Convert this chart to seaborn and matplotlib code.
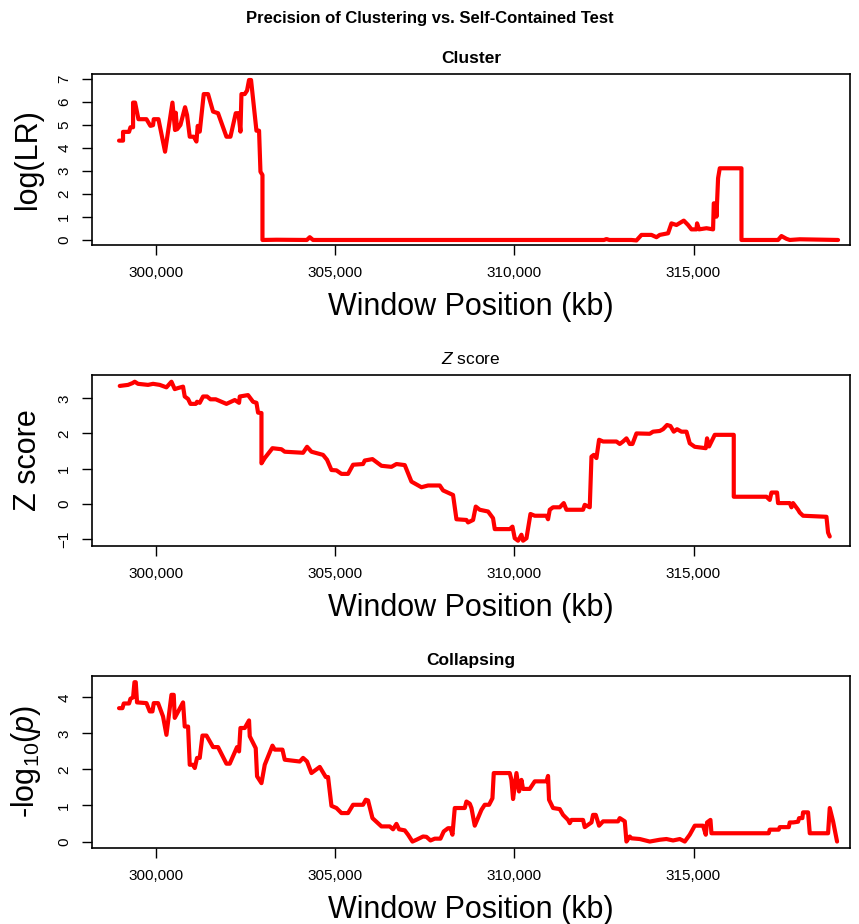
import matplotlib
matplotlib.use('Agg')
import matplotlib.pyplot as plt
import matplotlib.ticker as mticker
import seaborn as sns

# Window positions (kb) and scores
cluster_pos = [298955, 299067, 299067, 299235, 299274, 299347, 299347, 299403, 299497, 299721,
               299832, 299905, 299925, 300056, 300240, 300447, 300519, 300539, 300575, 300670,
               300799, 300855, 300930, 301042, 301117, 301153, 301209, 301321, 301441, 301581,
               301720, 301955, 302067, 302215, 302290, 302346, 302374, 302466, 302530, 302586,
               302642, 302793, 302866, 302905, 302961, 302961, 303352, 304200, 304282, 304374,
               312500, 312569, 312650, 313267, 313406, 313546, 313825, 313965, 314057, 314289,
               314384, 314524, 314728, 314848, 314943, 315082, 315099, 315155, 315362, 315546,
               315566, 315622, 315641, 315686, 315733, 316339, 316339, 317361, 317456, 317596,
               317688, 317967, 319037]
cluster_lr = [4.31, 4.31, 4.69, 4.69, 4.89, 4.89, 5.96, 5.96, 5.24, 5.24,
              4.95, 4.98, 5.24, 5.24, 3.83, 5.96, 4.77, 5.52, 4.80, 4.99,
              5.76, 5.42, 4.48, 4.48, 4.27, 4.95, 4.70, 6.33, 6.33, 5.57,
              5.50, 4.48, 4.48, 5.50, 5.50, 4.70, 6.33, 6.33, 6.48, 6.94,
              6.94, 4.74, 4.74, 2.96, 2.82, 0.00, 0.01, 0.00, 0.12, 0.00,
              0.00, 0.04, 0.00, 0.00, -0.02, 0.22, 0.22, 0.12, 0.22, 0.29,
              0.72, 0.65, 0.84, 0.65, 0.46, 0.46, 0.72, 0.46, 0.51, 0.46,
              1.59, 1.59, 1.01, 2.68, 3.11, 3.11, 0.00, 0.00, 0.17, 0.05,
              0.00, 0.03, 0.00]

z_pos = [298975, 299207, 299330, 299394, 299486, 299765, 299905, 300092, 300279, 300419,
         300511, 300603, 300743, 300790, 300883, 300950, 301098, 301134, 301209, 301302,
         301413, 301508, 301656, 301955, 302187, 302307, 302327, 302558, 302698, 302793,
         302838, 302933, 302933, 303025, 303240, 303491, 303583, 304095, 304206, 304329,
         304653, 304765, 304888, 305027, 305167, 305351, 305491, 305770, 305818, 306033,
         306284, 306564, 306703, 306935, 307122, 307401, 307586, 307913, 308005, 308284,
         308379, 308658, 308703, 308843, 308918, 309030, 309262, 309401, 309449, 309868,
         309943, 310007, 310099, 310194, 310239, 310334, 310446, 310566, 310893, 310937,
         310985, 311077, 311264, 311376, 311451, 311915, 311962, 312102, 312150, 312214,
         312289, 312362, 312474, 312848, 312940, 313032, 313127, 313219, 313295, 313406,
         313778, 313870, 314057, 314149, 314261, 314356, 314448, 314540, 314663, 314803,
         314895, 315035, 315342, 315378, 315434, 315501, 315593, 316124, 316124, 316571,
         317037, 317129, 317177, 317333, 317361, 317688, 317736, 317780, 317920, 317967,
         318060, 318713, 318758, 318805]
z_score = [3.35, 3.38, 3.43, 3.47, 3.41, 3.38, 3.41, 3.38, 3.31, 3.47,
           3.26, 3.29, 3.33, 3.05, 2.98, 2.84, 2.84, 2.90, 2.87, 3.05,
           3.05, 2.97, 2.97, 2.84, 2.95, 2.87, 3.05, 3.09, 2.90, 2.87,
           2.59, 2.58, 1.15, 1.30, 1.58, 1.55, 1.48, 1.45, 1.62, 1.48,
           1.39, 1.25, 0.96, 0.95, 0.85, 0.85, 1.11, 1.13, 1.23, 1.27,
           1.08, 1.05, 1.13, 1.10, 0.63, 0.47, 0.52, 0.52, 0.38, 0.25,
           -0.44, -0.46, -0.53, -0.46, -0.08, -0.17, -0.22, -0.41, -0.72, -0.72,
           -0.65, -0.98, -1.05, -0.88, -1.05, -0.98, -0.29, -0.34, -0.34, -0.44,
           -0.17, -0.10, -0.10, 0.02, -0.17, -0.17, -0.03, -0.10, 1.34, 1.39,
           1.30, 1.82, 1.77, 1.77, 1.70, 1.77, 1.86, 1.70, 1.70, 2.00,
           1.99, 2.05, 2.07, 2.12, 2.24, 2.21, 2.05, 2.12, 2.05, 2.05,
           1.72, 1.62, 1.58, 1.86, 1.63, 1.77, 1.96, 1.96, 0.20, 0.20,
           0.20, 0.11, 0.32, 0.32, 0.02, 0.02, -0.10, 0.02, -0.17, -0.25,
           -0.34, -0.37, -0.82, -0.93]

coll_pos = [298955, 299050, 299087, 299235, 299274, 299347, 299386, 299422, 299458, 299721,
            299813, 299888, 299925, 300045, 300184, 300279, 300419, 300483, 300511, 300743,
            300790, 300883, 300930, 301022, 301070, 301134, 301209, 301285, 301397, 301581,
            301720, 301955, 302047, 302251, 302307, 302346, 302466, 302586, 302606, 302773,
            302810, 302933, 303025, 303240, 303304, 303519, 303583, 304002, 304095, 304206,
            304329, 304561, 304729, 304793, 304888, 305027, 305167, 305351, 305491, 305770,
            305846, 305910, 306033, 306284, 306516, 306608, 306703, 306776, 306935, 307027,
            307150, 307262, 307446, 307541, 307653, 307773, 307932, 308024, 308144, 308211,
            308267, 308332, 308611, 308658, 308751, 308798, 308890, 309077, 309169, 309290,
            309384, 309421, 309868, 309915, 309960, 310055, 310127, 310194, 310239, 310426,
            310566, 310893, 310937, 310965, 311077, 311264, 311356, 311496, 311543, 311591,
            311915, 311962, 312150, 312194, 312270, 312362, 312474, 312892, 312940, 313080,
            313127, 313219, 313267, 313499, 313778, 314057, 314244, 314429, 314616, 314756,
            314895, 315035, 315267, 315342, 315378, 315473, 315501, 315546, 316571, 317100,
            317129, 317380, 317409, 317660, 317688, 317780, 317920, 317948, 318040, 318060,
            318199, 318247, 318758, 318805, 318898, 319009]
coll_logp = [3.70, 3.70, 3.83, 3.83, 3.96, 4.00, 4.42, 4.42, 3.86, 3.84,
             3.61, 3.61, 3.84, 3.84, 3.47, 2.96, 4.07, 4.07, 3.43, 3.86,
             3.19, 3.19, 2.13, 2.13, 2.04, 2.32, 2.32, 2.94, 2.94, 2.62,
             2.62, 2.16, 2.16, 2.62, 2.50, 3.15, 3.15, 3.36, 2.92, 2.59,
             1.81, 1.62, 2.13, 2.66, 2.55, 2.55, 2.27, 2.22, 2.32, 2.22,
             1.90, 2.07, 1.79, 1.79, 0.99, 0.93, 0.79, 0.79, 1.02, 1.02,
             1.16, 1.14, 0.65, 0.42, 0.42, 0.34, 0.49, 0.34, 0.31, 0.19,
             0.00, 0.05, 0.14, 0.13, 0.03, 0.08, 0.08, 0.28, 0.37, 0.37,
             0.19, 0.93, 0.93, 1.11, 1.05, 0.93, 0.44, 0.88, 1.02, 1.02,
             1.20, 1.90, 1.90, 1.71, 1.18, 1.90, 1.39, 1.71, 1.46, 1.46,
             1.67, 1.67, 1.82, 1.16, 0.93, 0.90, 0.74, 0.60, 0.51, 0.60,
             0.60, 0.40, 0.53, 0.74, 0.74, 0.44, 0.56, 0.56, 0.65, 0.56,
             0.00, 0.14, 0.09, 0.07, 0.00, 0.05, 0.07, 0.03, 0.07, 0.00,
             0.19, 0.44, 0.44, 0.19, 0.53, 0.60, 0.23, 0.23, 0.23, 0.23,
             0.33, 0.33, 0.40, 0.40, 0.53, 0.53, 0.55, 0.65, 0.65, 0.81,
             0.81, 0.23, 0.23, 0.93, 0.56, 0.00]

x_ticks = [300000, 305000, 310000, 315000]

sns.set_theme(style='ticks')
plt.rcParams['font.family'] = ['Liberation Sans', 'DejaVu Sans']
plt.rcParams['mathtext.fontset'] = 'custom'
plt.rcParams['mathtext.rm'] = 'Liberation Sans'
plt.rcParams['mathtext.it'] = 'Liberation Sans:italic'
plt.rcParams['text.color'] = 'black'
plt.rcParams['axes.labelcolor'] = 'black'

fig = plt.figure(figsize=(8.59, 9.24), dpi=100)

panels = [
    # (x, y, subtitle, subtitle weight, ylabel, yticks, ylim, axes rect)
    (cluster_pos, cluster_lr, 'Cluster', 'bold', 'log(LR)', range(0, 8), (-0.22, 7.2),
     [0.1071, 0.7348, 0.8824, 0.1851]),
    (z_pos, z_score, r'$\it{Z}$ score', 'normal', 'Z score', range(-1, 4), (-1.2, 3.67),
     [0.1071, 0.4091, 0.8824, 0.1854]),
    (coll_pos, coll_logp, 'Collapsing', 'bold', r'-log$_{10}$($\it{p}$)', range(0, 5), (-0.17, 4.6),
     [0.1071, 0.0826, 0.8824, 0.1861]),
]

for xs, ys, sub, weight, ylab, yt, ylim, rect in panels:
    ax = fig.add_axes(rect)
    sns.lineplot(x=xs, y=ys, ax=ax, sort=False, estimator=None, color='#ff0000',
                 linewidth=3, solid_joinstyle='round', solid_capstyle='round')
    ax.set_xlim(298200, 319370)
    ax.set_ylim(*ylim)
    ax.set_xticks(x_ticks)
    ax.xaxis.set_major_formatter(mticker.FuncFormatter(lambda v, p: f'{int(v):,}'))
    ax.set_yticks(list(yt))
    for s in ax.spines.values():
        s.set_visible(True)
        s.set_color('black')
        s.set_linewidth(1.2)
    ax.tick_params(axis='both', length=7, width=1, color='black', labelsize=11,
                   labelcolor='black', direction='out')
    ax.tick_params(axis='x', pad=8)
    ax.tick_params(axis='y', pad=8, labelrotation=90)
    for lbl in ax.get_yticklabels():
        lbl.set_va('center')
    ax.set_title(sub, fontsize=12.5, fontweight=weight, pad=8, color='black')
    ax.set_xlabel('Window Position (kb)', fontsize=22, labelpad=9)
    ax.set_ylabel(ylab, fontsize=22, labelpad=10)

fig.text(0.5, 1 - 18 / 924, 'Precision of Clustering vs. Self-Contained Test',
         ha='center', va='center', fontsize=12, fontweight='bold', color='black')

fig.savefig('out.png', dpi=100)
